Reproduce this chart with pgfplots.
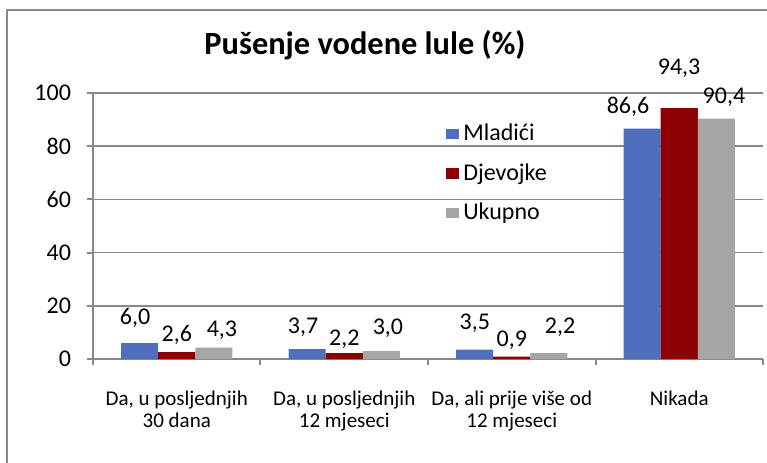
\documentclass[border=0pt]{standalone}
\usepackage{pgfplots}
\pgfplotsset{compat=1.18}
\usepackage{fontspec}
\setmainfont{Carlito}
\definecolor{cBlue}{HTML}{4F6EBE}
\definecolor{cRed}{HTML}{8B0000}
\definecolor{cGray}{HTML}{A5A5A5}
\definecolor{cAxis}{HTML}{888888}
\newcommand\lbl{\fontsize{10.5bp}{11bp}\selectfont}
\newcommand\lblbig{\fontsize{12bp}{13bp}\selectfont}

\begin{document}
\begin{tikzpicture}[x=1bp,y=1bp]
\begin{axis}[
  scale only axis, width=335bp, height=133bp,
  xmin=-0.5, xmax=3.5, ymin=0, ymax=100, clip=false,
  ybar=0pt, bar width=0.221,
  axis x line*=bottom, axis y line*=left,
  axis line style={cAxis, line width=1bp, -},
  tick style={cAxis, line width=1bp},
  tick align=outside, major tick length=3bp,
  ytick={0,20,...,100},
  ymajorgrids, grid style={cAxis, line width=0.8bp},
  xtick={-0.5,0.5,1.5,2.5,3.5}, xticklabels={},
  extra x ticks={0,1,2,3},
  extra x tick labels={{Da, u posljednjih\\30 dana},{Da, u posljednjih\\12 mjeseci},{Da, ali prije više od\\12 mjeseci},{Nikada}},
  extra x tick style={major tick length=0pt, grid=none,
    xticklabel style={align=center, font=\lbl, anchor=north, yshift=-12.5bp}},
  yticklabel style={font=\lblbig, xshift=-4.5bp},
  /pgf/number format/assume math mode=true,
  legend style={at={(axis cs:1.607,90)}, anchor=north west, draw=none, fill=none,
    inner sep=0pt, font=\lblbig, row sep=6bp, cells={anchor=west}},
  legend image code/.code={\fill[#1] (0bp,-2.6bp) rectangle (6.5bp,2.6bp);},
]
\addplot[fill=cBlue, draw=none] coordinates {(0,6.0)(1,3.7)(2,3.5)(3,86.6)};
\addplot[fill=cRed, draw=none] coordinates {(0,2.6)(1,2.2)(2,0.9)(3,94.3)};
\addplot[fill=cGray, draw=none] coordinates {(0,4.3)(1,3.0)(2,2.2)(3,90.4)};
\legend{Mladići,Djevojke,Ukupno}
% data labels, placed as in the reference
\node[font=\lblbig] at (axis cs:-0.249,15.4) {6,0};
\node[font=\lblbig] at (axis cs:0.0,9.0) {2,6};
\node[font=\lblbig] at (axis cs:0.270,10.9) {4,3};
\node[font=\lblbig] at (axis cs:0.754,12.0) {3,7};
\node[font=\lblbig] at (axis cs:1.0,7.5) {2,2};
\node[font=\lblbig] at (axis cs:1.261,11.7) {3,0};
\node[font=\lblbig] at (axis cs:1.78,13.5) {3,5};
\node[font=\lblbig] at (axis cs:2.0,7.1) {0,9};
\node[font=\lblbig] at (axis cs:2.288,12.0) {2,2};
\node[font=\lblbig] at (axis cs:2.694,94.7) {86,6};
\node[font=\lblbig] at (axis cs:2.999,109.4) {94,3};
\node[font=\lblbig] at (axis cs:3.267,98.5) {90,4};
\end{axis}
\node[font=\fontsize{16.2bp}{18bp}\selectfont\bfseries] at (136,157) {Pušenje vodene lule (\%)};
\draw[cAxis, line width=1bp] (-43,-60) -- (-43,174.5) -- (345,174.5);
\pgfresetboundingbox
\useasboundingbox (-46.5,-52) rectangle (337,179.5);
\end{tikzpicture}
\end{document}
